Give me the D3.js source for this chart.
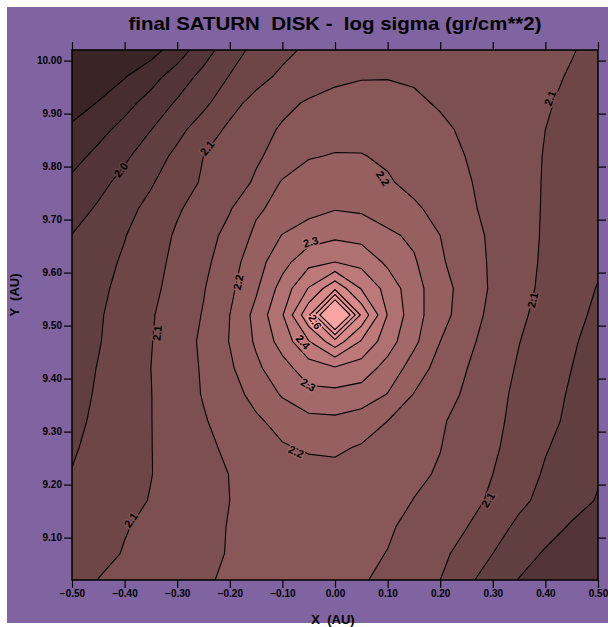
<!DOCTYPE html>
<html>
<head>
<meta charset="utf-8">
<script src="https://cdn.jsdelivr.net/npm/d3@7"></script>
<style>
    body { margin: 0; background: #ffffff; }
    text { font-family: "Liberation Sans", Arial, sans-serif; font-weight: bold; }
</style>
</head>
<body>
<script>
// 坐标轴刻度
const xTicks = [-0.5, -0.4, -0.3, -0.2, -0.1, 0.0, 0.1, 0.2, 0.3, 0.4, 0.5];
const yTicks = [9.1, 9.2, 9.3, 9.4, 9.5, 9.6, 9.7, 9.8, 9.9, 10.0];

// 等值线层级
const levels = [1.9, 1.95, 2.0, 2.05, 2.1, 2.15, 2.2, 2.25, 2.3, 2.35, 2.4, 2.45, 2.5, 2.55, 2.6];

// 网格: x 从 -0.50 起, y 从 10.02 起 (首行在上), 间距 0.05 AU
const gridX0 = -0.5, gridY0 = 10.02, gridStep = 0.05;
const sigma = [
    [1.800, 1.830, 1.860, 1.880, 1.925, 1.977, 2.029, 2.063, 2.086, 2.110, 2.125, 2.135, 2.140, 2.140, 2.135, 2.130, 2.120, 2.115, 2.110, 2.102, 2.090],
    [1.850, 1.875, 1.897, 1.932, 1.972, 2.015, 2.052, 2.083, 2.110, 2.125, 2.140, 2.147, 2.148, 2.145, 2.140, 2.133, 2.125, 2.115, 2.107, 2.097, 2.087],
    [1.880, 1.902, 1.934, 1.968, 2.006, 2.038, 2.084, 2.116, 2.139, 2.155, 2.165, 2.168, 2.165, 2.157, 2.146, 2.136, 2.124, 2.113, 2.103, 2.093, 2.083],
    [1.908, 1.935, 1.965, 1.999, 2.035, 2.076, 2.109, 2.134, 2.155, 2.170, 2.180, 2.184, 2.180, 2.172, 2.158, 2.143, 2.128, 2.114, 2.100, 2.090, 2.080],
    [1.934, 1.962, 1.992, 2.025, 2.062, 2.100, 2.124, 2.144, 2.166, 2.196, 2.203, 2.202, 2.193, 2.180, 2.166, 2.149, 2.131, 2.114, 2.098, 2.088, 2.077],
    [1.959, 1.986, 2.015, 2.045, 2.080, 2.105, 2.128, 2.156, 2.205, 2.226, 2.236, 2.231, 2.205, 2.187, 2.168, 2.154, 2.136, 2.115, 2.097, 2.086, 2.074],
    [1.980, 2.006, 2.035, 2.064, 2.095, 2.120, 2.147, 2.193, 2.215, 2.235, 2.248, 2.243, 2.225, 2.208, 2.185, 2.157, 2.140, 2.117, 2.096, 2.084, 2.070],
    [2.001, 2.025, 2.048, 2.077, 2.106, 2.130, 2.165, 2.210, 2.252, 2.275, 2.290, 2.283, 2.260, 2.240, 2.200, 2.170, 2.141, 2.117, 2.095, 2.081, 2.064],
    [2.006, 2.034, 2.056, 2.083, 2.112, 2.138, 2.178, 2.230, 2.282, 2.335, 2.350, 2.335, 2.290, 2.256, 2.206, 2.176, 2.142, 2.117, 2.093, 2.076, 2.056],
    [2.010, 2.040, 2.063, 2.089, 2.117, 2.147, 2.189, 2.243, 2.320, 2.403, 2.490, 2.397, 2.332, 2.268, 2.221, 2.179, 2.143, 2.115, 2.090, 2.068, 2.048],
    [2.017, 2.045, 2.069, 2.096, 2.122, 2.153, 2.200, 2.265, 2.346, 2.490, 2.750, 2.490, 2.348, 2.270, 2.218, 2.175, 2.136, 2.108, 2.085, 2.063, 2.041],
    [2.022, 2.047, 2.073, 2.098, 2.128, 2.158, 2.202, 2.257, 2.320, 2.397, 2.480, 2.395, 2.322, 2.261, 2.200, 2.162, 2.129, 2.101, 2.078, 2.055, 2.035],
    [2.028, 2.052, 2.077, 2.100, 2.127, 2.155, 2.192, 2.240, 2.282, 2.326, 2.345, 2.326, 2.283, 2.228, 2.181, 2.151, 2.122, 2.095, 2.072, 2.050, 2.029],
    [2.034, 2.055, 2.080, 2.099, 2.126, 2.153, 2.182, 2.214, 2.255, 2.286, 2.285, 2.279, 2.248, 2.198, 2.170, 2.143, 2.115, 2.090, 2.066, 2.045, 2.023],
    [2.041, 2.057, 2.081, 2.099, 2.123, 2.146, 2.170, 2.193, 2.215, 2.235, 2.240, 2.225, 2.200, 2.178, 2.155, 2.135, 2.110, 2.088, 2.063, 2.040, 2.017],
    [2.047, 2.058, 2.081, 2.099, 2.119, 2.139, 2.159, 2.175, 2.196, 2.205, 2.207, 2.196, 2.183, 2.169, 2.151, 2.129, 2.106, 2.084, 2.053, 2.034, 2.011],
    [2.051, 2.065, 2.082, 2.099, 2.115, 2.132, 2.151, 2.165, 2.176, 2.185, 2.188, 2.184, 2.172, 2.158, 2.146, 2.120, 2.100, 2.071, 2.045, 2.024, 2.004],
    [2.054, 2.068, 2.087, 2.102, 2.118, 2.134, 2.150, 2.162, 2.170, 2.176, 2.178, 2.174, 2.165, 2.149, 2.131, 2.114, 2.093, 2.060, 2.037, 2.017, 1.997],
    [2.057, 2.076, 2.097, 2.111, 2.124, 2.138, 2.152, 2.160, 2.167, 2.172, 2.174, 2.170, 2.155, 2.139, 2.120, 2.101, 2.069, 2.040, 2.018, 1.995, 1.985],
    [2.060, 2.085, 2.103, 2.113, 2.127, 2.142, 2.152, 2.162, 2.167, 2.170, 2.168, 2.158, 2.149, 2.129, 2.110, 2.084, 2.050, 2.020, 1.995, 1.983, 1.972],
    [2.062, 2.101, 2.110, 2.120, 2.133, 2.146, 2.155, 2.162, 2.167, 2.168, 2.163, 2.154, 2.140, 2.124, 2.100, 2.061, 2.026, 1.998, 1.985, 1.975, 1.965]
];

// 等值线标注
const labelText = ['2.0', '2.1', '2.1', '2.1', '2.2', '2.2', '2.3', '2.6', '2.4', '2.3', '2.2', '2.1', '2.1', '2.1'];
const labelX = [-0.407, -0.243, -0.338, -0.388, -0.184, 0.091, -0.046, -0.038, -0.061, -0.051, -0.074, 0.291, 0.376, 0.409];
const labelY = [9.794, 9.835, 9.486, 9.133, 9.582, 9.778, 9.658, 9.507, 9.469, 9.388, 9.262, 9.171, 9.548, 9.929];

const W = 608, H = 627;
const svg = d3.select('body').append('svg')
    .attr('width', W)
    .attr('height', H);

// 紫色底板
svg.append('rect')
    .attr('x', 7).attr('y', 7)
    .attr('width', W - 7).attr('height', H - 11)
    .attr('fill', '#8064a1');

const x = d3.scaleLinear().domain([-0.5, 0.5]).range([72, 598]);
const y = d3.scaleLinear().domain([9.02, 10.02]).range([580, 50]);

// 颜色: 按色带序号从深褐到浅粉
const ramp = d3.interpolateRgb('#3a2426', '#ffa4a4');
const bandColor = i => ramp(i / levels.length);

const nx = sigma[0].length, ny = sigma.length;
const contours = d3.contours().size([nx, ny]).thresholds(levels)(sigma.flat());

// 网格坐标 -> 像素
const proj = d3.geoTransform({
    point(gx, gy) {
        this.stream.point(x(gridX0 + (gx - 0.5) * gridStep), y(gridY0 - (gy - 0.5) * gridStep));
    }
});
const path = d3.geoPath(proj);

svg.append('clipPath').attr('id', 'plotClip')
    .append('rect')
    .attr('x', x(-0.5)).attr('y', y(10.02))
    .attr('width', x(0.5) - x(-0.5)).attr('height', y(9.02) - y(10.02));

const plot = svg.append('g').attr('clip-path', 'url(#plotClip)');

plot.append('rect')
    .attr('x', x(-0.5)).attr('y', y(10.02))
    .attr('width', x(0.5) - x(-0.5)).attr('height', y(9.02) - y(10.02))
    .attr('fill', bandColor(0));

plot.selectAll('path.band')
    .data(contours)
    .join('path')
    .attr('class', 'band')
    .attr('d', path)
    .attr('fill', (d, i) => bandColor(i + 1));

plot.selectAll('path.iso')
    .data(contours)
    .join('path')
    .attr('class', 'iso')
    .attr('d', path)
    .attr('fill', 'none')
    .attr('stroke', '#000')
    .attr('stroke-width', 1.1);

// 双线性取值, 用于标注方向
const sample = (xv, yv) => {
    let gx = Math.max(0, Math.min(nx - 1.001, (xv - gridX0) / gridStep));
    let gy = Math.max(0, Math.min(ny - 1.001, (gridY0 - yv) / gridStep));
    let i = Math.floor(gx), j = Math.floor(gy), fx = gx - i, fy = gy - j;
    let a = sigma[j][i], b = sigma[j][i + 1], c = sigma[j + 1][i], d = sigma[j + 1][i + 1];
    return a * (1 - fx) * (1 - fy) + b * fx * (1 - fy) + c * (1 - fx) * fy + d * fx * fy;
};

const labels = labelText.map((t, k) => {
    let px = x(labelX[k]), py = y(labelY[k]);
    let gxp = sample(x.invert(px + 3), labelY[k]) - sample(x.invert(px - 3), labelY[k]);
    let gyp = sample(labelX[k], y.invert(py + 3)) - sample(labelX[k], y.invert(py - 3));
    let ang = Math.atan2(gxp, -gyp) * 180 / Math.PI;
    if (ang > 90) ang -= 180;
    if (ang <= -90) ang += 180;
    let v = +t;
    let idx = levels.filter(l => l <= v + 1e-9).length;
    return {t, px, py, ang, idx};
});

plot.selectAll('text.lbl')
    .data(labels)
    .join('text')
    .attr('class', 'lbl')
    .attr('transform', d => `translate(${d.px},${d.py}) rotate(${d.ang})`)
    .attr('text-anchor', 'middle')
    .attr('dy', '0.35em')
    .attr('font-size', 11)
    .attr('fill', '#000')
    .attr('stroke', d => bandColor(d.idx))
    .attr('stroke-width', 3)
    .attr('paint-order', 'stroke')
    .text(d => d.t);

// 坐标轴
const fmt = d3.format('.2f');
const styleAxis = g => {
    g.attr('font-size', null).attr('font-family', null);
    g.selectAll('text').attr('font-size', 10).attr('fill', '#000');
    g.selectAll('line').attr('stroke', '#000').attr('stroke-width', 1.2);
    g.select('.domain').remove();
};

svg.append('g')
    .attr('transform', `translate(0,${y(9.02)})`)
    .call(d3.axisBottom(x).tickValues(xTicks).tickFormat(fmt).tickSize(8).tickPadding(2))
    .call(styleAxis);
svg.append('g')
    .attr('transform', `translate(0,${y(10.02)})`)
    .call(d3.axisTop(x).tickValues(xTicks).tickFormat('').tickSize(8))
    .call(styleAxis);
svg.append('g')
    .attr('transform', `translate(${x(-0.5)},0)`)
    .call(d3.axisLeft(y).tickValues(yTicks).tickFormat(fmt).tickSize(8).tickPadding(2))
    .call(styleAxis);
svg.append('g')
    .attr('transform', `translate(${x(0.5)},0)`)
    .call(d3.axisRight(y).tickValues(yTicks).tickFormat('').tickSize(8))
    .call(styleAxis);

// 边框
svg.append('rect')
    .attr('x', x(-0.5)).attr('y', y(10.02))
    .attr('width', x(0.5) - x(-0.5)).attr('height', y(9.02) - y(10.02))
    .attr('fill', 'none')
    .attr('stroke', '#000')
    .attr('stroke-width', 1.5);

// 标题与轴标题
svg.append('text')
    .attr('x', 335).attr('y', 30)
    .attr('text-anchor', 'middle')
    .attr('font-size', 19)
    .attr('textLength', 413)
    .attr('lengthAdjust', 'spacingAndGlyphs')
    .style('white-space', 'pre')
    .text('final SATURN  DISK -  log sigma (gr/cm**2)');

svg.append('text')
    .attr('x', 333).attr('y', 624)
    .attr('text-anchor', 'middle')
    .attr('font-size', 13)
    .style('white-space', 'pre')
    .text('X  (AU)');

svg.append('text')
    .attr('transform', `translate(19,295) rotate(-90)`)
    .attr('text-anchor', 'middle')
    .attr('font-size', 13)
    .style('white-space', 'pre')
    .text('Y  (AU)');
</script>
</body>
</html>
